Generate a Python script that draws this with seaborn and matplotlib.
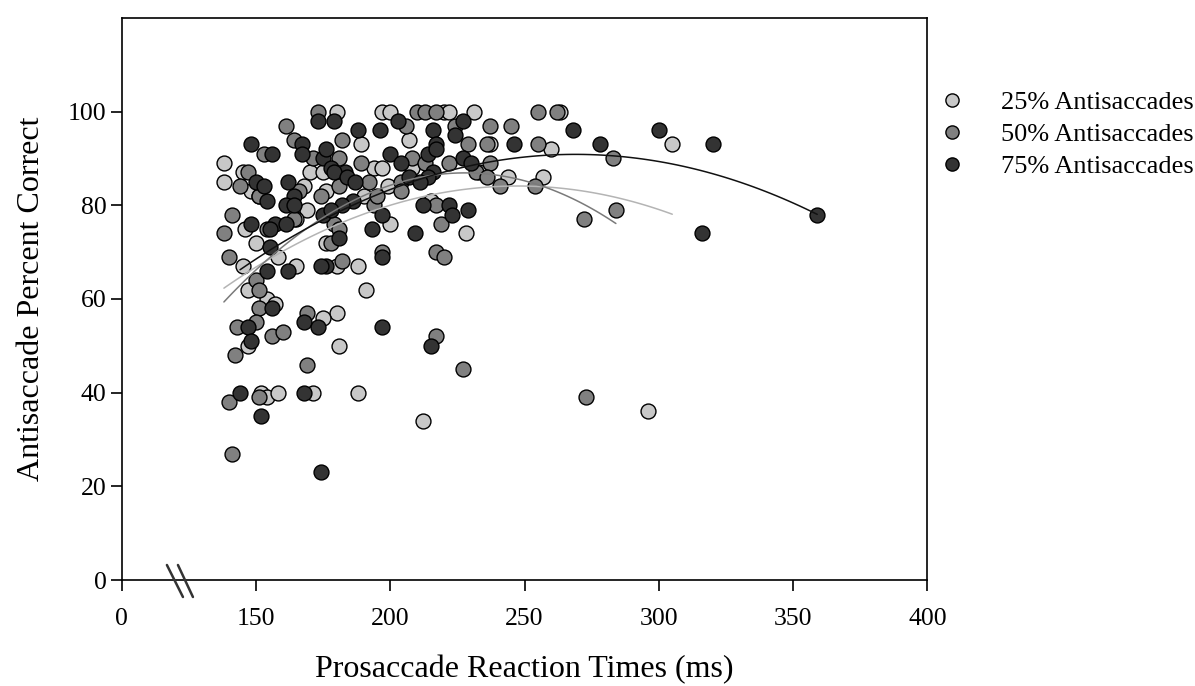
import numpy as np
import pandas as pd
import matplotlib
matplotlib.use("Agg")
import matplotlib.pyplot as plt
import seaborn as sns
from matplotlib.lines import Line2D

# ---------------- data ----------------
groups = ["25% Antisaccades", "50% Antisaccades", "75% Antisaccades"]

x25 = [138, 138, 145, 148, 168, 170, 175, 169, 146, 165, 180, 197, 200, 220, 222, 231, 263,
       189, 207, 237, 194, 197, 208, 199, 244, 233, 257, 260, 305, 176, 190, 200, 215, 228,
       150, 158, 145, 165, 147, 154, 157, 147, 176, 188, 180, 191, 180, 181, 175,
       152, 154, 158, 171, 188, 212, 296, 151]
y25 = [89, 85, 87, 83, 84, 87, 87, 79, 75, 77, 100, 100, 100, 100, 100, 100, 100,
       93, 94, 93, 88, 88, 88, 84, 86, 87, 86, 92, 93, 83, 82, 76, 81, 74,
       72, 69, 67, 67, 62, 60, 59, 50, 72, 67, 67, 62, 57, 50, 56,
       40, 39, 40, 40, 40, 34, 36, 82]

x50 = [173, 210, 213, 217, 255, 262, 161, 164, 153, 147, 144, 151, 166, 171, 174, 141, 138,
       164, 154, 206, 182, 224, 229, 237, 236, 245, 181, 189, 208, 213, 204, 204, 232, 237,
       236, 241, 181, 192, 194, 195, 179, 181, 219, 255, 222, 254, 217, 284, 272, 283, 273,
       140, 150, 151, 151, 150, 143, 156, 160, 142, 169, 169, 178, 197, 182, 217, 220, 217,
       227, 140, 151, 141]
y50 = [100, 100, 100, 100, 100, 100, 97, 94, 91, 87, 84, 82, 83, 90, 82, 78, 74,
       77, 75, 97, 94, 97, 93, 97, 93, 97, 90, 89, 90, 89, 85, 83, 87, 89,
       86, 84, 84, 85, 80, 82, 76, 75, 76, 93, 89, 84, 80, 79, 77, 90, 39,
       69, 64, 62, 58, 55, 54, 52, 53, 48, 46, 57, 72, 70, 68, 70, 69, 52,
       45, 38, 39, 27]

x75 = [173, 167, 148, 156, 167, 150, 153, 154, 162, 164, 161, 164, 175, 175, 148, 157, 161,
       155, 179, 203, 188, 196, 216, 217, 224, 227, 246, 176, 178, 183, 200, 204, 214, 217,
       216, 214, 207, 211, 227, 230, 179, 184, 187, 186, 182, 197, 193, 178, 209, 212, 222,
       223, 229, 268, 278, 300, 320, 316, 359, 155, 154, 162, 156, 147, 148, 168, 173, 176,
       181, 197, 174, 197, 215, 144, 152, 168, 174]
y75 = [98, 93, 93, 91, 91, 85, 84, 81, 85, 82, 80, 80, 90, 78, 76, 76, 76,
       75, 98, 98, 96, 96, 96, 93, 95, 98, 93, 92, 88, 87, 91, 89, 91, 92,
       87, 86, 86, 85, 90, 89, 87, 86, 85, 81, 80, 78, 75, 79, 74, 80, 80,
       78, 79, 96, 93, 96, 93, 74, 78, 71, 66, 66, 58, 54, 51, 55, 54, 67,
       73, 69, 67, 54, 50, 40, 35, 40, 23]

xs = [x25, x50, x75]
ys = [y25, y50, y75]

x_ticks = [100, 150, 200, 250, 300, 350, 400]
x_tick_labels = ["0", "150", "200", "250", "300", "350", "400"]
y_ticks = [0, 20, 40, 60, 80, 100]

fills = ["#c8c8c8", "#808080", "#333333"]
line_colors = ["#b4b4b4", "#7a7a7a", "#111111"]

# ---------------- figure ----------------
sns.set_theme(style="white")
plt.rcParams["font.family"] = ["Liberation Serif", "DejaVu Serif"]

fig = plt.figure(figsize=(11.95, 6.86), dpi=100)
ax = fig.add_axes([0.102, 0.1545, 0.674, 0.8195])

frames = []
for g, xx, yy in zip(groups, xs, ys):
    frames.append(pd.DataFrame({"rt": xx, "pc": yy, "group": g}))
df = pd.concat(frames, ignore_index=True)

for g, fc in zip(groups, fills):
    sub = df[df["group"] == g]
    sns.scatterplot(data=sub, x="rt", y="pc", ax=ax, color=fc, s=115,
                    edgecolor="black", linewidth=1.0, legend=False, zorder=3)

for g, lc in zip(groups, line_colors):
    sub = df[df["group"] == g]
    sns.regplot(data=sub, x="rt", y="pc", ax=ax, order=2, ci=None, scatter=False,
                truncate=True, line_kws={"color": lc, "linewidth": 1.1, "zorder": 4})

ax.set_xlim(100, 400)
ax.set_ylim(0, 120)
ax.set_xticks(x_ticks)
ax.set_xticklabels(x_tick_labels)
ax.set_yticks(y_ticks)
ax.tick_params(axis="both", direction="out", length=8, width=1.2, colors="black",
               labelcolor="black", labelsize=18.5, bottom=True, left=True)
ax.tick_params(axis="x", pad=12)
ax.tick_params(axis="y", pad=3)
for sp in ax.spines.values():
    sp.set_visible(True)
    sp.set_color("black")
    sp.set_linewidth(1.2)

ax.set_xlabel("Prosaccade Reaction Times (ms)", fontsize=23, labelpad=18, color="black")
ax.set_ylabel("Antisaccade Percent Correct", fontsize=23, labelpad=16, color="black")

# axis break marks
for x0, x1 in [(0.0559, 0.0758), (0.0696, 0.0882)]:
    ax.plot([x0, x1], [0.0267, -0.0302], transform=ax.transAxes, color="#333333",
            linewidth=1.8, clip_on=False, zorder=5)

handles = [Line2D([0], [0], marker="o", linestyle="none", markersize=9.5,
                  markerfacecolor=fc, markeredgecolor="black", markeredgewidth=1.0)
           for fc in fills]
fig.legend(handles, groups, loc="upper left", bbox_to_anchor=(0.786, 0.868),
           frameon=False, fontsize=19, handlelength=1.0, handletextpad=1.35,
           labelspacing=0.32, borderpad=0.0, borderaxespad=0.0,
           labelcolor="black")

fig.savefig("out.png", dpi=100)
